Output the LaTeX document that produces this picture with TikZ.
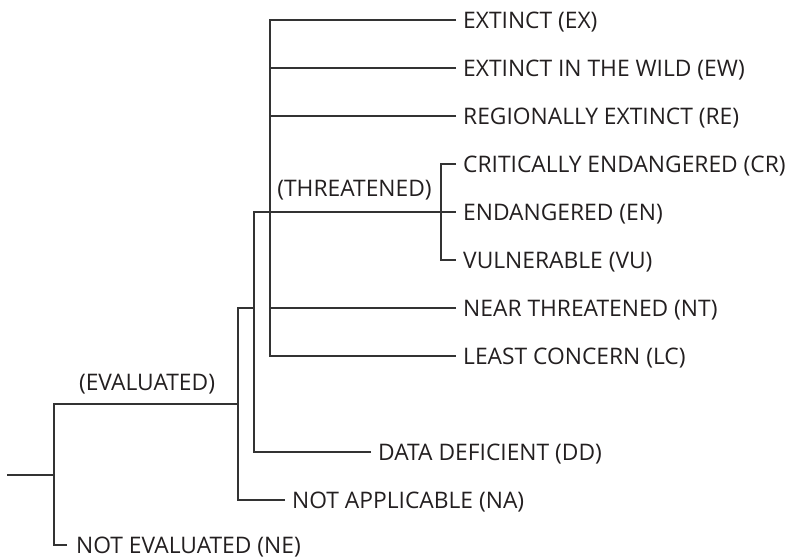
\documentclass[tikz,border=0pt]{standalone}
\usepackage{fontspec}
\setmainfont{Open Sans}
\definecolor{ink}{HTML}{231F20}
\definecolor{wire}{HTML}{333333}
\begin{document}
\begin{tikzpicture}[x=1pt,y=-1pt,
  every node/.style={font=\fontsize{22.8}{26}\selectfont, text=ink},
  leaf/.style={anchor=west, inner xsep=7pt, inner ysep=0pt, text height=16.3pt, text depth=0pt},
  tag/.style={inner sep=0pt, text height=16.3pt, text depth=0pt},
  link/.style={draw=wire, line width=1.1pt}]
\useasboundingbox (0,0) rectangle (791,558);
% leaves
\node[leaf] (EX) at (456,20)  {EXTINCT (EX)};
\node[leaf] (EW) at (456,68)  {EXTINCT IN THE WILD (EW)};
\node[leaf] (RE) at (456,116) {REGIONALLY EXTINCT (RE)};
\node[leaf] (CR) at (456,164) {CRITICALLY ENDANGERED (CR)};
\node[leaf] (EN) at (456,212) {ENDANGERED (EN)};
\node[leaf] (VU) at (456,260) {VULNERABLE (VU)};
\node[leaf] (NT) at (456,308) {NEAR THREATENED (NT)};
\node[leaf] (LC) at (456,356) {LEAST CONCERN (LC)};
\node[leaf] (DD) at (371,452) {DATA DEFICIENT (DD)};
\node[leaf] (NA) at (285,500) {NOT APPLICABLE (NA)};
\node[leaf, inner xsep=9pt] (NE) at (67,545)  {NOT EVALUATED (NE)};
% group labels
\node[tag] (THR) at (354.5,188) {(THREATENED)};
\node[tag] (EVA) at (147,382) {(EVALUATED)};
% junctions
\coordinate (r0) at (7,475);
\coordinate (j0) at (54,475);
\coordinate (j1) at (238,404);
\coordinate (j2) at (254,308);
\coordinate (t)  at (270,212);
\coordinate (b)  at (441,212);
% connectors
\draw[link] (r0) -- (j0);
\draw[link] (NE.west) -| (j0) |- (j1);
\draw[link] (NA.west) -| (j1) |- (j2);
\draw[link] (DD.west) -| (j2) |- (EN.west);
\draw[link] (EX.west) -| (t) |- (LC.west);
\draw[link] (EW.west) -- (EW.west -| t);
\draw[link] (RE.west) -- (RE.west -| t);
\draw[link] (NT.west) -- (NT.west -| t);
\draw[link] (CR.west) -| (b) |- (VU.west);
\end{tikzpicture}
\end{document}
